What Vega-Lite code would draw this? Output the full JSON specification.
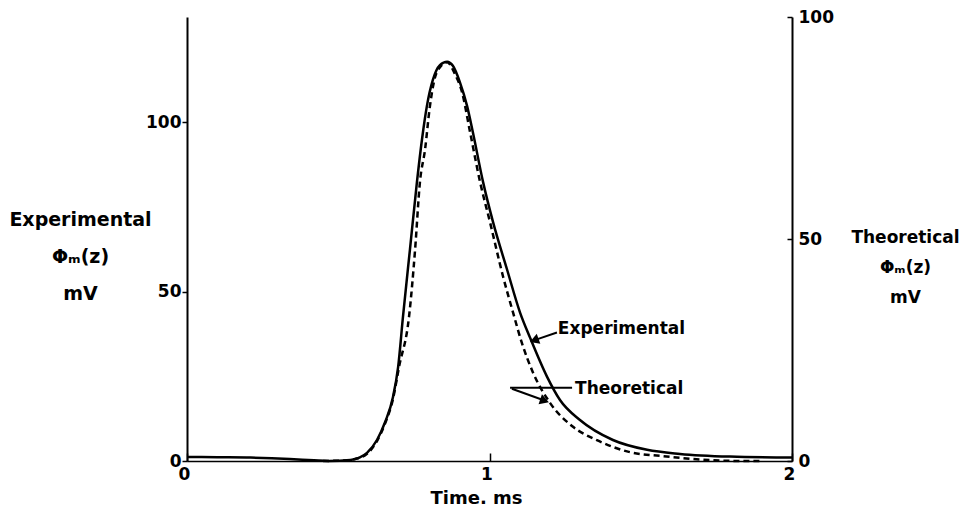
{
  "$schema": "https://vega.github.io/schema/vega-lite/v6.json",
  "width": 605,
  "height": 444,
  "autosize": {"type": "none"},
  "padding": {"left": 187, "top": 17, "right": 168, "bottom": 49},
  "config": {
    "view": {"stroke": null},
    "font": "DejaVu Sans",
    "axis": {
      "labelFont": "DejaVu Sans", "labelFontWeight": "bold", "labelFontSize": 17, "labelColor": "black",
      "titleFont": "DejaVu Sans", "titleFontWeight": "bold", "titleColor": "black",
      "domainColor": "black", "domainWidth": 2, "tickColor": "black", "tickWidth": 1.5, "grid": false,
      "labelOverlap": false
    }
  },
  "datasets": {
    "exp": [
      {"t": 0, "v": 1.2}, {"t": 0.1, "v": 1.1}, {"t": 0.21, "v": 1.0}, {"t": 0.34, "v": 0.6},
      {"t": 0.42, "v": 0.2}, {"t": 0.47, "v": 0}, {"t": 0.54, "v": 0.3}, {"t": 0.57, "v": 1.0},
      {"t": 0.595, "v": 2.4}, {"t": 0.628, "v": 6.2}, {"t": 0.655, "v": 11.5}, {"t": 0.681, "v": 18.9},
      {"t": 0.698, "v": 27.8}, {"t": 0.714, "v": 42.6}, {"t": 0.737, "v": 62.4}, {"t": 0.76, "v": 82.2},
      {"t": 0.777, "v": 95.0}, {"t": 0.793, "v": 104.7}, {"t": 0.813, "v": 112.5}, {"t": 0.836, "v": 116.8},
      {"t": 0.86, "v": 117.8}, {"t": 0.879, "v": 116.6}, {"t": 0.902, "v": 111.8}, {"t": 0.926, "v": 104.7},
      {"t": 0.945, "v": 97.0}, {"t": 0.979, "v": 82.2}, {"t": 1.012, "v": 70.4}, {"t": 1.058, "v": 56.5},
      {"t": 1.101, "v": 43.8}, {"t": 1.134, "v": 36.4}, {"t": 1.19, "v": 24.9}, {"t": 1.233, "v": 18.0},
      {"t": 1.299, "v": 12.1}, {"t": 1.408, "v": 6.2}, {"t": 1.521, "v": 3.3}, {"t": 1.63, "v": 2.1},
      {"t": 1.795, "v": 1.3}, {"t": 2.0, "v": 1.0}
    ],
    "theo": [
      {"t": 0.45, "w": 0}, {"t": 0.52, "w": 0.1}, {"t": 0.555, "w": 0.45}, {"t": 0.595, "w": 1.6},
      {"t": 0.628, "w": 4.5}, {"t": 0.655, "w": 8.5}, {"t": 0.681, "w": 14.0}, {"t": 0.701, "w": 21.2},
      {"t": 0.734, "w": 32.5}, {"t": 0.754, "w": 47.6}, {"t": 0.77, "w": 62.8}, {"t": 0.787, "w": 70.2},
      {"t": 0.803, "w": 79.9}, {"t": 0.826, "w": 87.6}, {"t": 0.86, "w": 89.8}, {"t": 0.886, "w": 87.1},
      {"t": 0.909, "w": 83.1}, {"t": 0.936, "w": 74.0}, {"t": 0.969, "w": 62.8}, {"t": 1.002, "w": 53.7},
      {"t": 1.045, "w": 41.5}, {"t": 1.078, "w": 33.4}, {"t": 1.107, "w": 26.6}, {"t": 1.144, "w": 19.9},
      {"t": 1.2, "w": 13.1}, {"t": 1.276, "w": 7.7}, {"t": 1.355, "w": 4.7}, {"t": 1.464, "w": 2.0},
      {"t": 1.574, "w": 1.1}, {"t": 1.729, "w": 0.2}, {"t": 1.85, "w": 0}, {"t": 1.9, "w": 0}
    ],
    "labels": [
      {"t": 1.226, "v": 38.8, "label": "Experimental"},
      {"t": 1.283, "v": 21.3, "label": "Theoretical"}
    ],
    "arrows": [
      {"t": 1.223, "v": 37.9, "t2": 1.154, "v2": 35.8},
      {"t": 1.068, "v": 21.6, "t2": 1.273, "v2": 21.6},
      {"t": 1.074, "v": 21.3, "t2": 1.177, "v2": 18.0}
    ],
    "heads": [
      {"t": 1.148, "v": 35.6, "dir": "left", "ang": 340},
      {"t": 1.182, "v": 17.8, "dir": "right", "ang": 19}
    ]
  },
  "encoding": {
    "x": {"field": "t", "type": "quantitative", "scale": {"domain": [0, 2], "nice": false},
      "axis": {"values": [0, 1, 2], "labelExpr": "'' + round(datum.value)", "title": "Time. ms", "titleFontSize": 18, "titleX": 289, "titleY": 37,
        "titleBaseline": "middle", "tickSize": -8, "labelPadding": 13, "labelOffset": -3, "domainWidth": 1.5,
        "labelFlush": false, "labelOverlap": false, "labelBound": false}}
  },
  "layer": [
    {
      "data": {"name": "exp"},
      "mark": {"type": "line", "color": "black", "strokeWidth": 2.5, "interpolate": "monotone"},
      "encoding": {
        "y": {"field": "v", "type": "quantitative", "scale": {"domain": [0, 131], "nice": false},
          "axis": {"orient": "left", "values": [0, 50, 100], "tickSize": 5, "labelPadding": 1,
            "title": ["Experimental", "Φₘ(z)", "mV"], "titleFontSize": 19, "titleAngle": 0,
            "titleAlign": "center", "titleBaseline": "top", "titleX": -107, "titleY": 193,
            "titleLineHeight": 37}}
      }
    },
    {
      "data": {"name": "theo"},
      "mark": {"type": "line", "color": "black", "strokeWidth": 2.5, "strokeDash": [6, 4], "interpolate": "monotone"},
      "encoding": {
        "y": {"field": "w", "type": "quantitative", "scale": {"domain": [0, 100], "nice": false},
          "axis": {"orient": "right", "values": [0, 50, 100], "tickSize": -5, "labelPadding": 11,
            "title": ["Theoretical", "Φₘ(z)", "mV"], "titleFontSize": 17, "titleAngle": 0,
            "titleAlign": "center", "titleBaseline": "top", "titleX": 113, "titleY": 212,
            "titleLineHeight": 30}}
      }
    },
    {
      "data": {"name": "arrows"},
      "mark": {"type": "rule", "color": "black", "strokeWidth": 2},
      "encoding": {
        "y": {"field": "v", "type": "quantitative", "scale": {"domain": [0, 131], "nice": false}, "axis": null},
        "x2": {"field": "t2"},
        "y2": {"field": "v2"}
      }
    },
    {
      "data": {"name": "heads"},
      "mark": {"type": "point", "filled": true, "color": "black", "opacity": 1, "size": 110},
      "encoding": {
        "y": {"field": "v", "type": "quantitative", "scale": {"domain": [0, 131], "nice": false}, "axis": null},
        "shape": {"field": "dir", "type": "nominal", "scale": {"domain": ["left", "right"], "range": ["triangle-left", "triangle-right"]}, "legend": null},
        "angle": {"field": "ang", "type": "quantitative", "scale": null}
      }
    },
    {
      "data": {"name": "labels"},
      "mark": {"type": "text", "align": "left", "baseline": "middle", "font": "DejaVu Sans", "fontWeight": "bold", "fontSize": 17, "color": "black"},
      "encoding": {
        "y": {"field": "v", "type": "quantitative", "scale": {"domain": [0, 131], "nice": false}, "axis": null},
        "text": {"field": "label"}
      }
    }
  ],
  "resolve": {"scale": {"y": "independent"}}
}
